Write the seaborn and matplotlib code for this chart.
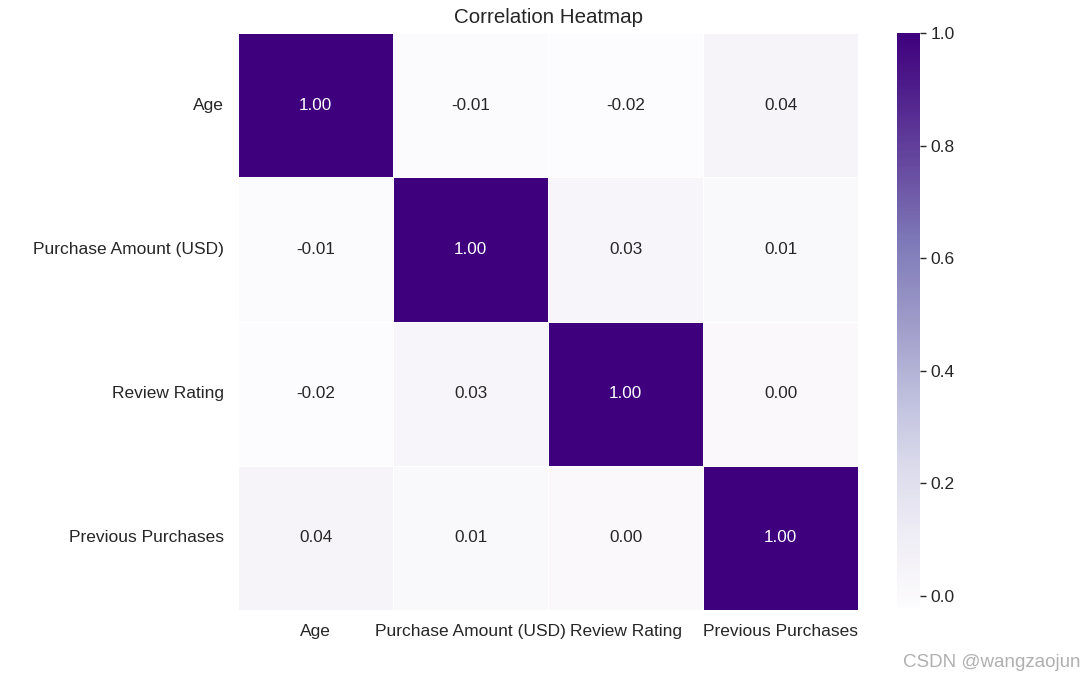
import matplotlib.pyplot as plt
import numpy as np
import pandas as pd
import seaborn as sns

# Correlation values
cols = ['Age', 'Purchase Amount (USD)', 'Review Rating', 'Previous Purchases']
age = [1.00, -0.010, -0.022, 0.040]
purchase = [-0.010, 1.00, 0.031, 0.008]
review = [-0.022, 0.031, 1.00, 0.004]
previous = [0.040, 0.008, 0.004, 1.00]

corr = pd.DataFrame([age, purchase, review, previous], index=cols, columns=cols)

sns.set_style('white')
plt.rcParams['font.family'] = ['Liberation Sans', 'DejaVu Sans']
plt.rcParams['text.color'] = '#262626'
plt.rcParams['xtick.color'] = '#262626'
plt.rcParams['ytick.color'] = '#262626'

fig = plt.figure(figsize=(10.84, 6.81), dpi=100)
ax = fig.add_axes([0.2196, 0.1043, 0.572, 0.8472])
cax = fig.add_axes([0.8275, 0.107, 0.0212, 0.8445])

sns.heatmap(corr, annot=True, fmt='.2f', cmap='Purples', linewidths=0.5,
            linecolor='white', ax=ax, cbar_ax=cax, annot_kws={'size': 12.3})

ax.set_title('Correlation Heatmap', fontsize=14.8, pad=7)
ax.tick_params(axis='both', labelsize=12.5, length=0, pad=10)
plt.setp(ax.get_xticklabels(), rotation=0)
plt.setp(ax.get_yticklabels(), rotation=0)
cax.tick_params(labelsize=12.5, length=4, width=1, color='#262626')

fig.text(0.997, 0.015, 'CSDN @wangzaojun', ha='right', va='bottom',
         fontsize=13.5, color='#b0b0b0')

fig.savefig('out.png', dpi=100)
